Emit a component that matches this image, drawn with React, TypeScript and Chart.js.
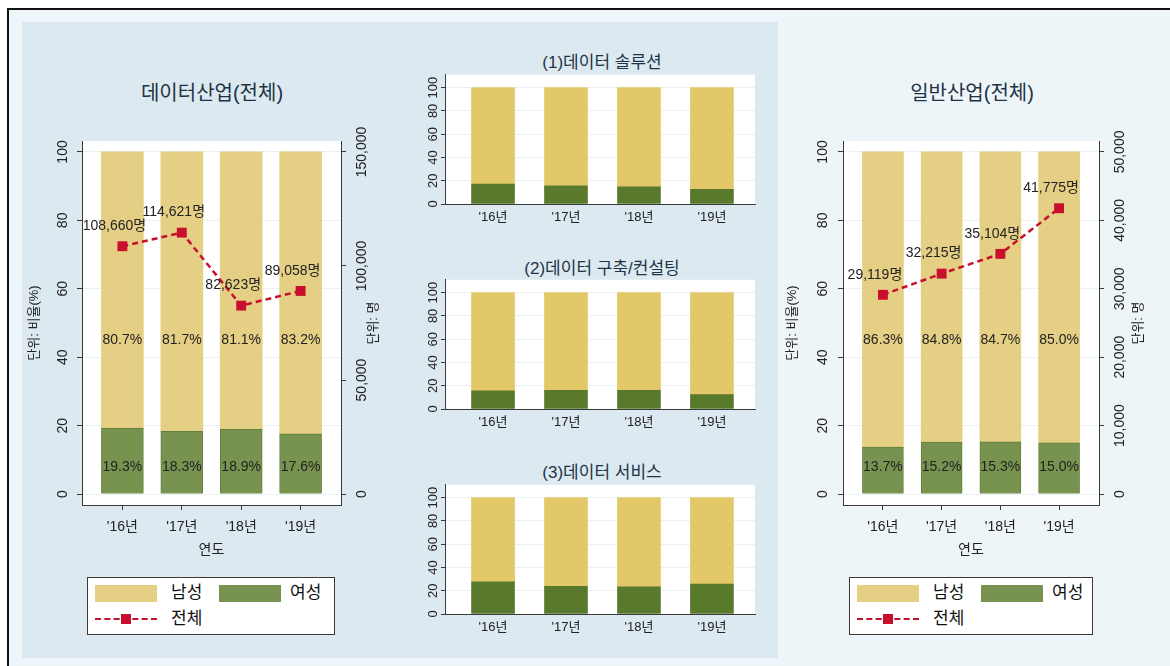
import React, { useEffect, useRef } from 'react';
import { Chart, registerables } from 'chart.js';

Chart.register(...registerables);

// ---------- data ----------
const years = ["'16년", "'17년", "'18년", "'19년"];

// bar heights as drawn (stacks reach 100)
const dataIndMale = [80.7, 81.7, 81.1, 82.4];
const dataIndFemale = [19.3, 18.3, 18.9, 17.6];
// printed labels
const dataIndMaleLabels = ['80.7%', '81.7%', '81.1%', '83.2%'];
const dataIndFemaleLabels = ['19.3%', '18.3%', '18.9%', '17.6%'];
const dataIndTotal = [108660, 114621, 82623, 89058];

const genIndMale = [86.3, 84.8, 84.7, 85.0];
const genIndFemale = [13.7, 15.2, 15.3, 15.0];
const genIndMaleLabels = ['86.3%', '84.8%', '84.7%', '85.0%'];
const genIndFemaleLabels = ['13.7%', '15.2%', '15.3%', '15.0%'];
const genIndTotal = [29119, 32215, 35104, 41775];

const solutionMale = [82.9, 84.3, 85.2, 87.5];
const solutionFemale = [17.1, 15.7, 14.8, 12.5];
const consultMale = [84.4, 84.0, 84.0, 87.7];
const consultFemale = [15.6, 16.0, 16.0, 12.3];
const serviceMale = [72.4, 76.3, 76.6, 74.4];
const serviceFemale = [27.6, 23.7, 23.4, 25.6];

const pctTicks = [0, 20, 40, 60, 80, 100];
const dataTotalTicks = [0, 50000, 100000, 150000];
const genTotalTicks = [0, 10000, 20000, 30000, 40000, 50000];

// ---------- style ----------
const FONT = "'Liberation Sans', Arial, 'Noto Sans CJK KR', sans-serif";
const TEXT = '#222222';
const TITLE = '#1e3345';
const AXIS = '#3a3a3a';
const GRID = '#e9f1f3';
const RED = '#c8102e';
const GOLD_BIG = '#e5cf84';
const GREEN_BIG = '#78934f';
const GREEN_BIG_EDGE = '#62803c';
const GOLD_MID = '#e2c868';
const GREEN_MID = '#597a2d';
const MALE_LABEL_AT = 45;
const FEMALE_LABEL_AT = 8;

const plotBg = {
  id: 'plotBg',
  beforeDraw(chart: any) {
    const { ctx, chartArea: a } = chart;
    ctx.save();
    ctx.fillStyle = '#ffffff';
    ctx.fillRect(a.left, a.top, a.right - a.left, a.bottom - a.top);
    ctx.restore();
  },
};

function pts(arr: number[]) {
  return arr.map((v, i) => ({ x: i + 1, y: v }));
}

function labelsPlugin(maleLabels: string[], femaleLabels: string[], total: number[]) {
  return {
    id: 'valueLabels',
    afterDatasetsDraw(chart: any) {
      const { ctx } = chart;
      const xs = chart.scales.x;
      const ys = chart.scales.y;
      ctx.save();
      ctx.font = `14px ${FONT}`;
      ctx.fillStyle = TEXT;
      ctx.textAlign = 'center';
      ctx.textBaseline = 'middle';
      maleLabels.forEach((t, i) => {
        const px = xs.getPixelForValue(i + 1);
        ctx.fillText(t, px, ys.getPixelForValue(MALE_LABEL_AT));
        ctx.fillText(femaleLabels[i], px, ys.getPixelForValue(FEMALE_LABEL_AT));
      });
      const meta = chart.getDatasetMeta(0);
      total.forEach((v, i) => {
        const p = meta.data[i];
        ctx.fillText(v.toLocaleString('en-US') + '명', p.x - 8, p.y - 20);
      });
      ctx.restore();
    },
  };
}

type BigProps = {
  left: number; top: number; width: number; height: number;
  male: number[]; female: number[]; maleLabels: string[]; femaleLabels: string[]; total: number[];
  totalTicks: number[]; y2Min: number; y2Max: number;
  yWidth: number; y2Width: number; yPad: number; y2Pad: number;
  padTop: number; xHeight: number; barW: number;
};

function BigChart(p: BigProps) {
  const ref = useRef<HTMLCanvasElement>(null);
  useEffect(() => {
    const font = { family: FONT, size: 14 };
    const chart = new Chart(ref.current as HTMLCanvasElement, {
      type: 'bar',
      data: {
        datasets: [
          {
            type: 'line', label: '전체', data: pts(p.total), yAxisID: 'y2', xAxisID: 'x',
            borderColor: RED, backgroundColor: RED, borderWidth: 2.5, borderDash: [6, 4],
            pointStyle: 'rect', pointRadius: 7, pointBorderWidth: 0, pointBackgroundColor: RED, order: 0,
          } as any,
          {
            type: 'bar', label: '여성', data: pts(p.female), yAxisID: 'y', xAxisID: 'x', stack: 's',
            backgroundColor: GREEN_BIG, borderColor: GREEN_BIG_EDGE, borderWidth: 1, barThickness: p.barW, order: 1,
          },
          {
            type: 'bar', label: '남성', data: pts(p.male), yAxisID: 'y', xAxisID: 'x', stack: 's',
            backgroundColor: GOLD_BIG, borderWidth: 0, barThickness: p.barW, order: 1,
          },
        ],
      } as any,
      options: {
        responsive: false,
        animation: false,
        events: [],
        layout: { padding: { top: p.padTop, left: 0, right: 0, bottom: 0 } },
        plugins: { legend: { display: false }, tooltip: { enabled: false }, title: { display: false } },
        scales: {
          x: {
            type: 'linear', min: 0.32, max: 4.68, offset: false,
            afterBuildTicks: (s: any) => { s.ticks = years.map((_, i) => ({ value: i + 1 })); },
            afterFit: (s: any) => { s.height = p.xHeight; },
            ticks: { callback: (v: any) => years[Number(v) - 1] ?? '', font, color: TEXT, padding: 9, autoSkip: false, maxRotation: 0, minRotation: 0 },
            grid: { drawOnChartArea: false, offset: false, tickLength: 5, color: AXIS },
            border: { display: true, color: AXIS },
            title: { display: true, text: '연도', font: { family: FONT, size: 14 }, color: TEXT, padding: { top: 0, bottom: 11 } },
          },
          y: {
            type: 'linear', position: 'left', stacked: true, min: -3.2, max: 103.2,
            afterBuildTicks: (s: any) => { s.ticks = pctTicks.map((v) => ({ value: v })); },
            afterFit: (s: any) => { s.width = p.yWidth; },
            ticks: { font, color: TEXT, minRotation: 90, maxRotation: 90, crossAlign: 'center', padding: p.yPad, autoSkip: false },
            grid: { color: GRID, tickColor: AXIS, tickLength: 5 },
            border: { display: true, color: AXIS },
            title: { display: true, text: '단위: 비율(%)', font: { family: FONT, size: 13 }, color: TEXT, padding: { top: 5, bottom: 0 } },
          },
          y2: {
            type: 'linear', position: 'right', min: p.y2Min, max: p.y2Max,
            afterBuildTicks: (s: any) => { s.ticks = p.totalTicks.map((v) => ({ value: v })); },
            afterFit: (s: any) => { s.width = p.y2Width; },
            ticks: {
              callback: (v: any) => Number(v).toLocaleString('en-US'),
              font, color: TEXT, minRotation: 90, maxRotation: 90, crossAlign: 'center', padding: p.y2Pad, autoSkip: false,
            },
            grid: { drawOnChartArea: false, tickLength: 5, color: AXIS },
            border: { display: true, color: AXIS },
          },
        },
      } as any,
      plugins: [plotBg, labelsPlugin(p.maleLabels, p.femaleLabels, p.total)],
    });
    return () => chart.destroy();
  }, []);
  return (
    <canvas ref={ref} width={p.width} height={p.height}
      style={{ position: 'absolute', left: p.left, top: p.top, width: p.width, height: p.height }} />
  );
}

type MidProps = { top: number; male: number[]; female: number[] };

function MidChart(p: MidProps) {
  const ref = useRef<HTMLCanvasElement>(null);
  useEffect(() => {
    const font = { family: FONT, size: 13 };
    const chart = new Chart(ref.current as HTMLCanvasElement, {
      type: 'bar',
      data: {
        datasets: [
          { label: '여성', data: pts(p.female), stack: 's', backgroundColor: GREEN_MID, borderWidth: 0, barThickness: 43 },
          { label: '남성', data: pts(p.male), stack: 's', backgroundColor: GOLD_MID, borderWidth: 0, barThickness: 43 },
        ],
      } as any,
      options: {
        responsive: false,
        animation: false,
        events: [],
        layout: { padding: { top: 4, left: 0, right: 15, bottom: 0 } },
        plugins: { legend: { display: false }, tooltip: { enabled: false }, title: { display: false } },
        scales: {
          x: {
            type: 'linear', min: 0.342, max: 4.59, offset: false,
            afterBuildTicks: (s: any) => { s.ticks = years.map((_, i) => ({ value: i + 1 })); },
            afterFit: (s: any) => { s.height = 26; },
            ticks: { callback: (v: any) => years[Number(v) - 1] ?? '', font, color: TEXT, padding: 6, autoSkip: false, maxRotation: 0, minRotation: 0 },
            grid: { drawOnChartArea: false, offset: false, drawTicks: false, color: AXIS },
            border: { display: true, color: AXIS },
          },
          y: {
            type: 'linear', stacked: true, min: 0, max: 111,
            afterBuildTicks: (s: any) => { s.ticks = pctTicks.map((v) => ({ value: v })); },
            afterFit: (s: any) => { s.width = 45; },
            ticks: { font, color: TEXT, minRotation: 90, maxRotation: 90, crossAlign: 'center', padding: -3, autoSkip: false },
            grid: { color: GRID, tickColor: AXIS, tickLength: 4 },
            border: { display: true, color: AXIS },
          },
        },
      } as any,
      plugins: [plotBg],
    });
    return () => chart.destroy();
  }, []);
  return (
    <canvas ref={ref} width={370} height={160}
      style={{ position: 'absolute', left: 400, top: p.top, width: 370, height: 160 }} />
  );
}

function Legend({ left, width }: { left: number; width: number }) {
  const txt: React.CSSProperties = { position: 'absolute', fontFamily: FONT, fontSize: 17, color: '#111', lineHeight: '20px' };
  return (
    <div style={{ position: 'absolute', left, top: 577, width, height: 58, boxSizing: 'border-box', border: '1px solid #3a3a3a', background: '#ffffff' }}>
      <div style={{ position: 'absolute', left: 7, top: 7, width: 62, height: 17, background: GOLD_BIG }} />
      <div style={{ ...txt, left: 83, top: 5 }}>남성</div>
      <div style={{ position: 'absolute', left: 131, top: 7, width: 62, height: 17, background: GREEN_BIG }} />
      <div style={{ ...txt, left: 202, top: 5 }}>여성</div>
      <div style={{ position: 'absolute', left: 7, top: 40, width: 62, height: 0, borderTop: `2px dashed ${RED}` }} />
      <div style={{ position: 'absolute', left: 33, top: 36, width: 10, height: 10, background: RED }} />
      <div style={{ ...txt, left: 83, top: 31 }}>전체</div>
    </div>
  );
}

function Text({ x, y, size, color, children, rotate }: any) {
  return (
    <div style={{
      position: 'absolute', left: x - 150, top: y - 15, width: 300, height: 30, lineHeight: '30px',
      textAlign: 'center', fontFamily: FONT, fontSize: size, color, whiteSpace: 'nowrap',
      transform: rotate ? `rotate(${rotate}deg)` : undefined,
    }}>{children}</div>
  );
}

export default function App() {
  return (
    <div style={{ position: 'absolute', left: 0, top: 0, width: 1170, height: 666, overflow: 'hidden', background: '#ffffff' }}>
      <div style={{ position: 'absolute', left: 7, top: 8, width: 1180, height: 680, boxSizing: 'border-box', border: '2px solid #111', background: '#eef5f9' }} />
      <div style={{ position: 'absolute', left: 22, top: 22, width: 756, height: 636, background: '#dce9f0' }} />

      <Text x={212} y={93} size={20} color={TITLE}>데이터산업(전체)</Text>
      <Text x={972} y={93} size={20} color={TITLE}>일반산업(전체)</Text>
      <Text x={602} y={63} size={17} color={TITLE}>(1)데이터 솔루션</Text>
      <Text x={602} y={269} size={17} color={TITLE}>(2)데이터 구축/컨설팅</Text>
      <Text x={602} y={473} size={17} color={TITLE}>(3)데이터 서비스</Text>

      <BigChart left={22} top={110} width={378} height={460}
        male={dataIndMale} female={dataIndFemale}
        maleLabels={dataIndMaleLabels} femaleLabels={dataIndFemaleLabels} total={dataIndTotal}
        totalTicks={dataTotalTicks} y2Min={-4800} y2Max={154800}
        yWidth={60} y2Width={59} yPad={2} y2Pad={-9} padTop={31} xHeight={65} barW={42} />
      <BigChart left={780} top={110} width={380} height={460}
        male={genIndMale} female={genIndFemale}
        maleLabels={genIndMaleLabels} femaleLabels={genIndFemaleLabels} total={genIndTotal}
        totalTicks={genTotalTicks} y2Min={-1600} y2Max={51600}
        yWidth={63} y2Width={61} yPad={3} y2Pad={-5} padTop={31} xHeight={65} barW={41} />

      <MidChart top={70} male={solutionMale} female={solutionFemale} />
      <MidChart top={275} male={consultMale} female={consultFemale} />
      <MidChart top={480} male={serviceMale} female={serviceFemale} />

      <Text x={373} y={323} size={13} color={TEXT} rotate={-90}>단위: 명</Text>
      <Text x={1138} y={323} size={13} color={TEXT} rotate={-90}>단위: 명</Text>

      <Legend left={87} width={248} />
      <Legend left={849} width={244} />
    </div>
  );
}
